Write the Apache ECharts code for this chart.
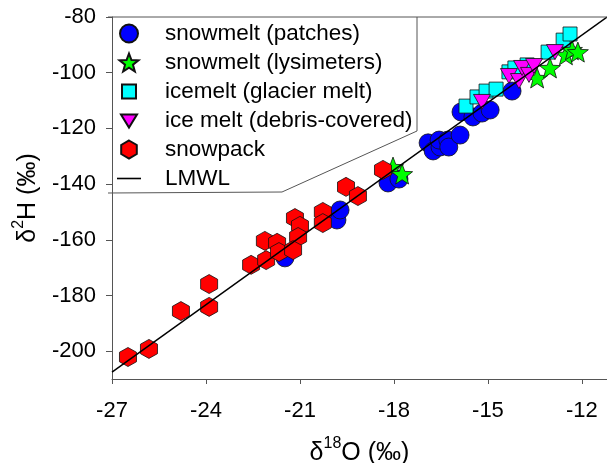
<!DOCTYPE html>
<html>
<head>
<meta charset="utf-8">
<script src="https://cdn.jsdelivr.net/npm/echarts@6/dist/echarts.min.js"></script>
<style>
  html, body { margin: 0; padding: 0; background: #fff; }
  #chart { width: 607px; height: 463px; }
</style>
</head>
<body>
<div id="chart"></div>
<script>
// 数据：δ18O / δ2H 读数（‰）
const patchesO = [-21.48, -19.82, -19.72, -18.19, -17.84, -16.91, -16.75, -16.53, -16.56, -16.28, -16.25, -15.89, -15.86, -15.48, -15.19, -14.93, -14.23]
const patchesH = [-166.5, -152.9, -149.3, -139.6, -138.2, -125.2, -128.1, -126.7, -124.2, -124.2, -126.7, -122.4, -114.1, -115.9, -114.5, -113.4, -106.6]

const lysiO = [-18.03, -17.74, -13.43, -13.02, -12.51, -12.32, -12.13]
const lysiH = [-133.9, -136.4, -101.9, -98.3, -93.6, -91.8, -92.6]

const glacierO = [-15.70, -15.35, -15.06, -14.74, -14.33, -14.14, -13.75, -13.08, -12.60, -12.38]
const glacierH = [-112.0, -108.7, -106.6, -105.9, -99.7, -98.3, -97.2, -92.6, -88.3, -86.1]

const debrisO = [-15.19, -14.33, -14.01, -13.91, -13.69, -13.53, -12.86]
const debrisH = [-110.5, -101.2, -103.0, -98.3, -100.8, -97.6, -92.6]

const snowpackO = [-26.49, -25.82, -24.80, -23.90, -23.90, -22.56, -22.12, -21.73, -22.08, -21.67, -21.16, -21.00, -21.06, -21.22, -20.27, -20.27, -19.53, -19.15, -18.35]
const snowpackH = [-202.1, -199.2, -185.6, -175.9, -184.1, -169.0, -160.4, -161.1, -167.3, -164.4, -152.2, -155.0, -159.0, -163.7, -150.0, -154.0, -141.0, -144.3, -134.9]

// LMWL 端点
const lmwlO = [-27, -11.2]
const lmwlH = [-207.5, -80]

// 刻度
const xTicks = [-27, -24, -21, -18, -15, -12]
const yTicks = [-200, -180, -160, -140, -120, -100, -80]

const pairs = (xs, ys) => xs.map((x, i) => [x, ys[i]])

const STAR = 'path://M0,-1 L0.247,-0.34 L0.951,-0.309 L0.399,0.13 L0.588,0.809 L0,0.42 L-0.588,0.809 L-0.399,0.13 L-0.951,-0.309 L-0.247,-0.34 Z'
const HEX = 'path://M0,-1 L0.866,-0.5 L0.866,0.5 L0,1 L-0.866,0.5 L-0.866,-0.5 Z'
const TRI_DOWN = 'path://M-1,-1 L1,-1 L0,1 Z'
// 图例图标：带不可见边界点，控制图标在 18px 高度内的实际大小
const LEG_RECT = 'path://M-9,-9 L-9,-9 M9,9 L9,9 M-7,-7 L7,-7 L7,7 L-7,7 Z'
const LEG_TRI = 'path://M-9,-9 L-9,-9 M9,9 L9,9 M-8,-6 L8,-6 L0,7 Z'
const LEG_LINE = 'path://M-12,-9 L-12,-9 M12,9 L12,9 M-12,-0.8 L12,-0.8 L12,0.8 L-12,0.8 Z'

const border = { borderColor: '#111', borderWidth: 0.8 }
const font = 'Liberation Sans, Arial, sans-serif'

const titleRich = {
  d: { fontSize: 25, fontFamily: font, color: '#000', lineHeight: 30, verticalAlign: 'bottom' },
  s: { fontSize: 16, fontFamily: font, color: '#000', lineHeight: 30, verticalAlign: 'top' }
}

const option = {
  animation: false,
  textStyle: { fontFamily: font },
  grid: { left: 112, right: 0, top: 17, bottom: 84, outerBoundsMode: 'none' },
  legend: {
    orient: 'vertical',
    left: 112,
    top: 17,
    itemWidth: 62,
    itemHeight: 18,
    itemGap: 6,
    textStyle: { fontSize: 22.5, color: '#000', fontFamily: font, lineHeight: 22 },
    data: [
      { name: 'snowmelt (patches)', icon: 'circle' },
      { name: 'snowmelt (lysimeters)', icon: STAR },
      { name: 'icemelt (glacier melt)', icon: LEG_RECT },
      { name: 'ice melt (debris-covered)', icon: LEG_TRI },
      { name: 'snowpack', icon: HEX },
      { name: 'LMWL', icon: LEG_LINE, itemStyle: { color: '#000', borderWidth: 0 } }
    ]
  },
  xAxis: {
    type: 'value',
    min: -27,
    max: -11.2,
    name: '{d|δ}{s|18}{d|O (‰)}',
    nameLocation: 'middle',
    nameGap: 57,
    nameTextStyle: { rich: titleRich },
    axisLine: { lineStyle: { color: '#555', width: 1 } },
    axisTick: { length: 5, lineStyle: { color: '#555' }, customValues: xTicks },
    axisLabel: { fontSize: 22, color: '#000', margin: 21, customValues: xTicks },
    splitLine: { show: false }
  },
  yAxis: {
    type: 'value',
    min: -210,
    max: -80,
    name: '{d|δ}{s|2}{d|H (‰)}',
    nameLocation: 'middle',
    nameGap: 51,
    nameTextStyle: { rich: titleRich },
    axisLine: { show: true, lineStyle: { color: '#555', width: 1 } },
    axisTick: { show: true, length: 6, lineStyle: { color: '#555' }, customValues: yTicks },
    axisLabel: { fontSize: 22, color: '#000', margin: 16, customValues: yTicks },
    splitLine: { show: false }
  },
  graphic: [
    {
      type: 'polyline',
      z: 100,
      shape: { points: [[607, 17], [417, 17], [417, 131], [282, 192], [108, 193]] },
      style: { stroke: '#555', lineWidth: 1, fill: null }
    },
    {
      type: 'line',
      z: 100,
      shape: { x1: 108, y1: 17, x2: 417, y2: 17 },
      style: { stroke: '#555', lineWidth: 1 }
    }
  ],
  series: [
    {
      name: 'snowmelt (patches)',
      type: 'scatter',
      symbol: 'circle',
      symbolSize: 18,
      z: 2,
      itemStyle: Object.assign({ color: '#0000ff', opacity: 1 }, border),
      data: pairs(patchesO, patchesH)
    },
    {
      name: 'snowmelt (lysimeters)',
      type: 'scatter',
      symbol: STAR,
      symbolSize: [21, 20],
      z: 3,
      itemStyle: Object.assign({ color: '#00ff00', opacity: 1 }, border),
      data: pairs(lysiO, lysiH)
    },
    {
      name: 'icemelt (glacier melt)',
      type: 'scatter',
      symbol: 'rect',
      symbolSize: 14,
      z: 3,
      itemStyle: Object.assign({ color: '#00ffff', opacity: 1 }, border),
      data: pairs(glacierO, glacierH)
    },
    {
      name: 'ice melt (debris-covered)',
      type: 'scatter',
      symbol: TRI_DOWN,
      symbolSize: [17, 15],
      z: 4,
      itemStyle: Object.assign({ color: '#ff00ff', opacity: 1 }, border),
      data: pairs(debrisO, debrisH)
    },
    {
      name: 'snowpack',
      type: 'scatter',
      symbol: HEX,
      symbolSize: [17, 19],
      z: 4,
      itemStyle: Object.assign({ color: '#ff0000', opacity: 1 }, border),
      data: pairs(snowpackO, snowpackH)
    },
    {
      name: 'LMWL',
      type: 'line',
      symbol: 'none',
      z: 5,
      lineStyle: { color: '#000', width: 1.5 },
      itemStyle: { color: '#000' },
      data: pairs(lmwlO, lmwlH)
    }
  ]
}

const chart = echarts.init(document.getElementById('chart'))
chart.setOption(option)
</script>
</body>
</html>
